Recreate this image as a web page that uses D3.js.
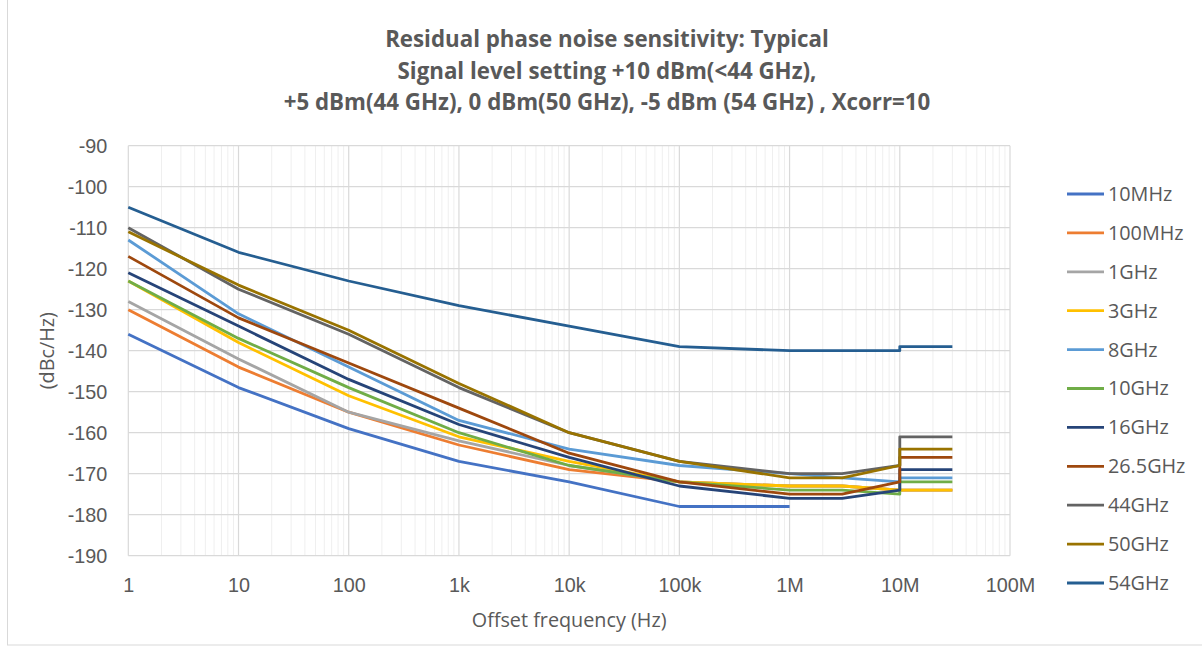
<!DOCTYPE html>
<html>
<head>
<meta charset="utf-8">
<script src="https://cdn.jsdelivr.net/npm/d3@7"></script>
<style>
  body { margin: 0; background: #fff; }
  svg { display: block; font-family: "Open Sans", "Liberation Sans", sans-serif; }
</style>
</head>
<body>
<svg id="chart" width="1202" height="652"></svg>
<script>
// offset frequencies (Hz) - 10M appears twice, the curves step there
const offsets = [1, 10, 100, 1e3, 1e4, 1e5, 1e6, 3e6, 1e7, 1e7, 3e7];

const s10MHz  = [-136, -149, -159, -167, -172, -178, -178, null, null, null, null];
const s100MHz = [-130, -144, -155, -163, -169, -172, -173, -173, -174, -174, -174];
const s1GHz   = [-128, -142, -155, -162, -168, -172, -173, -173, -174, -174, -174];
const s3GHz   = [-123, -138, -151, -161, -167, -172, -173, -173, -174, -174, -174];
const s8GHz   = [-113, -131, -144, -157, -164, -168, -170, -171, -172, -171, -171];
const s10GHz  = [-123, -137, -149, -160, -168, -172, -174, -174, -175, -172, -172];
const s16GHz  = [-121, -134, -147, -158, -166, -173, -176, -176, -174, -169, -169];
const s26GHz  = [-117, -132, -143, -154, -165, -172, -175, -175, -172, -166, -166];
const s44GHz  = [-110, -125, -136, -149, -160, -167, -170, -170, -168, -161, -161];
const s50GHz  = [-111, -124, -135, -148, -160, -167, -171, -171, -168, -164, -164];
const s54GHz  = [-105, -116, -123, -129, -134, -139, -140, -140, -140, -139, -139];

const seriesNames = ["10MHz", "100MHz", "1GHz", "3GHz", "8GHz", "10GHz", "16GHz", "26.5GHz", "44GHz", "50GHz", "54GHz"];
const seriesValues = [s10MHz, s100MHz, s1GHz, s3GHz, s8GHz, s10GHz, s16GHz, s26GHz, s44GHz, s50GHz, s54GHz];
const seriesColors = ["#4472C4", "#ED7D31", "#A5A5A5", "#FFC000", "#5B9BD5", "#70AD47",
                      "#264478", "#9E480E", "#636363", "#997300", "#255E91"];

const xTicks = [1, 10, 100, 1e3, 1e4, 1e5, 1e6, 1e7, 1e8];
const xTickLabels = ["1", "10", "100", "1k", "10k", "100k", "1M", "10M", "100M"];
const yTicks = [-90, -100, -110, -120, -130, -140, -150, -160, -170, -180, -190];

const titleLines = [
  "Residual phase noise sensitivity: Typical",
  "Signal level setting +10 dBm(<44 GHz),",
  "+5 dBm(44 GHz), 0 dBm(50 GHz), -5 dBm (54 GHz) , Xcorr=10"
];

const svg = d3.select("#chart");
const textColor = "#595959";
const labelSize = "19.8px";

const plot = { left: 128.3, right: 1010, top: 145.7, bottom: 555.7 };

const x = d3.scaleLog().domain([1, 1e8]).range([plot.left, plot.right]);
const y = d3.scaleLinear().domain([-190, -90]).range([plot.bottom, plot.top]);

// chart outer border (partly cropped like the screenshot)
svg.append("rect")
  .attr("x", 7.5).attr("y", -10)
  .attr("width", 1210).attr("height", 655)
  .attr("fill", "none")
  .attr("stroke", "#d9d9d9");

// minor vertical gridlines
const minor = [];
for (let e = 0; e < 8; e++) {
  for (let k = 2; k <= 9; k++) minor.push(k * Math.pow(10, e));
}
svg.append("g")
  .selectAll("line")
  .data(minor)
  .join("line")
  .attr("x1", d => x(d)).attr("x2", d => x(d))
  .attr("y1", plot.top).attr("y2", plot.bottom)
  .attr("stroke", "#efefef")
  .attr("stroke-width", 1);

// major gridlines
svg.append("g")
  .selectAll("line")
  .data(yTicks)
  .join("line")
  .attr("x1", plot.left).attr("x2", plot.right)
  .attr("y1", d => y(d)).attr("y2", d => y(d))
  .attr("stroke", "#d9d9d9")
  .attr("stroke-width", 1.2);

svg.append("g")
  .selectAll("line")
  .data(xTicks)
  .join("line")
  .attr("x1", d => x(d)).attr("x2", d => x(d))
  .attr("y1", plot.top).attr("y2", plot.bottom)
  .attr("stroke", "#d9d9d9")
  .attr("stroke-width", 1.2);

// axes
const xAxis = d3.axisBottom(x)
  .tickValues(xTicks)
  .tickFormat((d, i) => xTickLabels[i])
  .tickSize(0)
  .tickPadding(22);

svg.append("g")
  .attr("transform", `translate(0,${plot.bottom})`)
  .call(xAxis)
  .call(g => g.select(".domain").remove())
  .call(g => g.selectAll("text")
    .attr("fill", textColor)
    .style("font-size", labelSize)
    .style("font-family", "inherit"));

const yAxis = d3.axisLeft(y)
  .tickValues(yTicks)
  .tickFormat(d => String(d))
  .tickSize(0)
  .tickPadding(21);

svg.append("g")
  .attr("transform", `translate(${plot.left},0)`)
  .call(yAxis)
  .call(g => g.select(".domain").remove())
  .call(g => g.selectAll("text")
    .attr("fill", textColor)
    .style("font-size", labelSize)
    .style("font-family", "inherit"));

// series
const line = d3.line()
  .defined(d => d[1] !== null)
  .x(d => x(d[0]))
  .y(d => y(d[1]));

svg.append("g")
  .attr("fill", "none")
  .attr("stroke-width", 2.8)
  .attr("stroke-linejoin", "round")
  .selectAll("path")
  .data(seriesValues)
  .join("path")
  .attr("stroke", (d, i) => seriesColors[i])
  .attr("d", vals => line(vals.map((v, j) => [offsets[j], v])));

// titles
svg.append("g")
  .selectAll("text")
  .data(titleLines)
  .join("text")
  .attr("x", 607)
  .attr("y", (d, i) => 47 + i * 31.5)
  .attr("text-anchor", "middle")
  .attr("fill", textColor)
  .attr("font-weight", "bold")
  .style("font-size", "22.3px")
  .text(d => d);

svg.append("text")
  .attr("x", (plot.left + plot.right) / 2)
  .attr("y", 627)
  .attr("text-anchor", "middle")
  .attr("fill", textColor)
  .style("font-size", labelSize)
  .text("Offset frequency (Hz)");

svg.append("text")
  .attr("transform", `translate(54,${(plot.top + plot.bottom) / 2}) rotate(-90)`)
  .attr("text-anchor", "middle")
  .attr("fill", textColor)
  .style("font-size", labelSize)
  .text("(dBc/Hz)");

// legend
const legend = svg.append("g")
  .selectAll("g")
  .data(seriesNames)
  .join("g")
  .attr("transform", (d, i) => `translate(1067,${194 + i * 38.9})`);

legend.append("line")
  .attr("x1", 0).attr("x2", 37)
  .attr("stroke", (d, i) => seriesColors[i])
  .attr("stroke-width", 2.8);

legend.append("text")
  .attr("x", 41)
  .attr("dy", "0.35em")
  .attr("fill", textColor)
  .style("font-size", labelSize)
  .text(d => d);
</script>
</body>
</html>
